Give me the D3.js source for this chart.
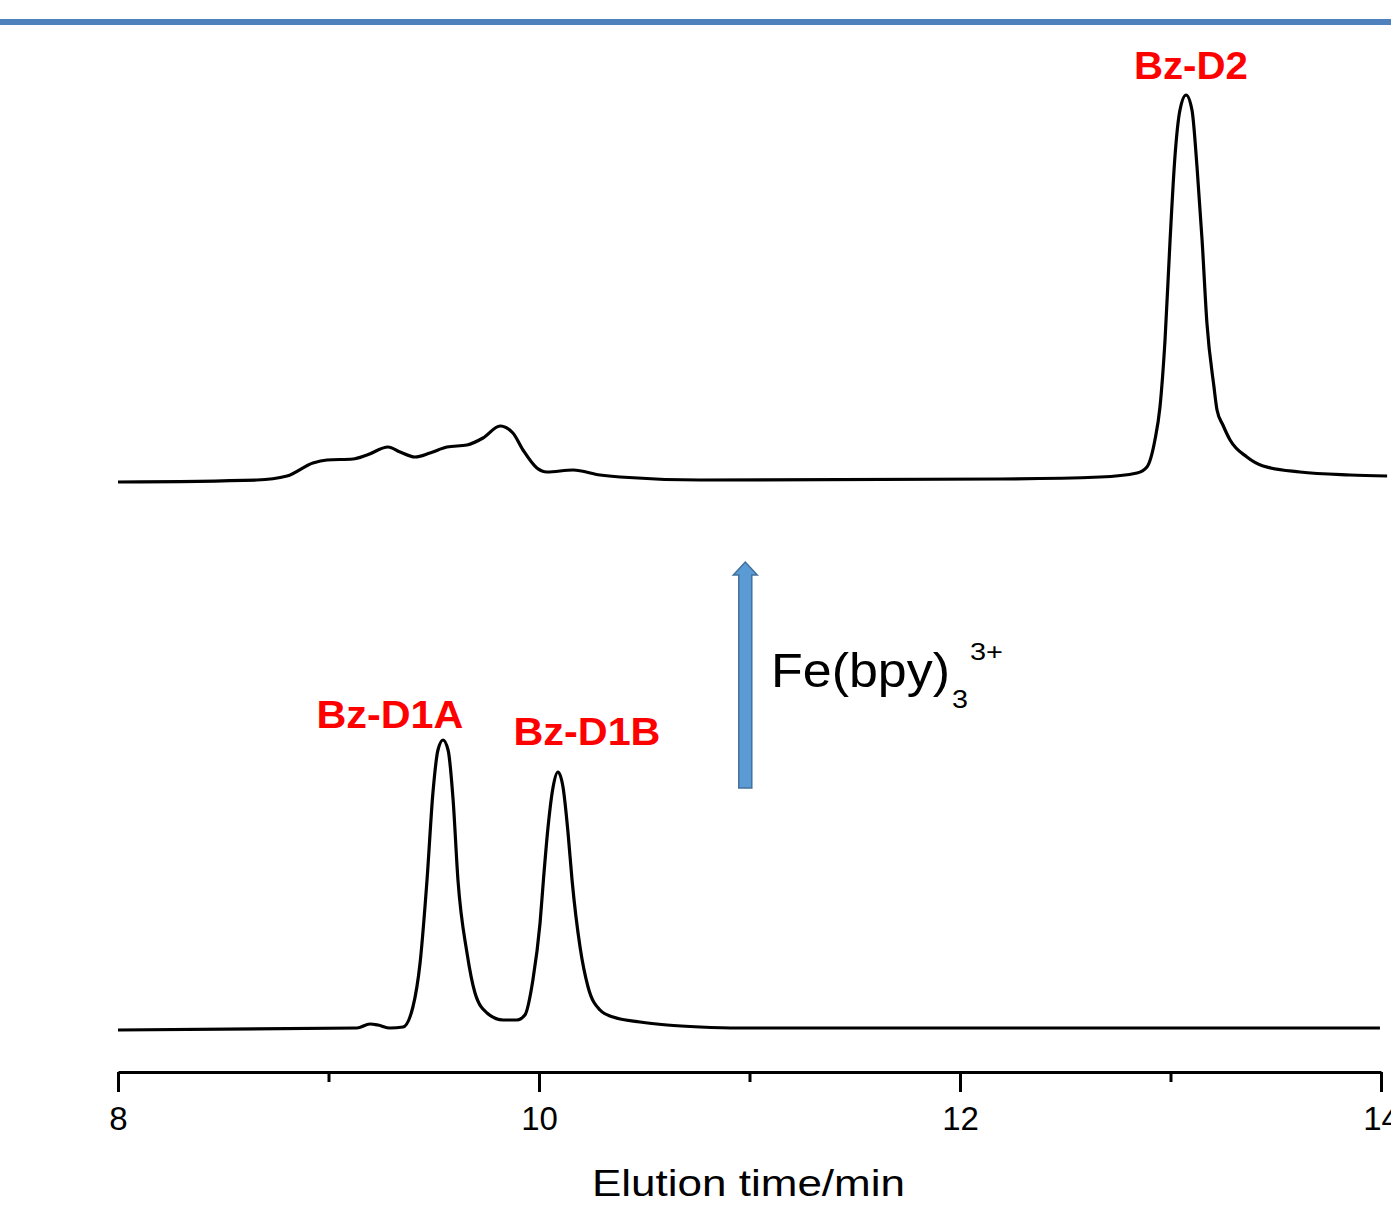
<!DOCTYPE html>
<html>
<head>
<meta charset="utf-8">
<script src="https://cdn.jsdelivr.net/npm/d3@7"></script>
<style>
  body { margin: 0; background: #fff; }
  svg { display: block; font-family: "Liberation Sans", Arial, sans-serif; }
</style>
</head>
<body>
<div id="chart"></div>
<script>
// elution time (min) and detector signal (a.u.)
const beforeTime = [8.0, 9.135, 9.197, 9.235, 9.292, 9.354, 9.401, 9.435, 9.468, 9.496, 9.52, 9.544, 9.568, 9.592, 9.615, 9.658, 9.696, 9.753, 9.829, 9.895, 9.933, 9.971, 10.005, 10.021, 10.043, 10.067, 10.09, 10.114, 10.138, 10.157, 10.195, 10.233, 10.29, 10.352, 10.48, 10.608, 10.765, 10.955, 12.0, 13.995];
const beforeSignal = [0, 2, 6, 5, 2, 3, 23, 67, 150, 237, 280, 290, 280, 230, 150, 77, 37, 17, 10, 10, 15, 50, 107, 150, 203, 243, 258, 243, 197, 150, 83, 43, 20, 13, 8, 5, 3, 2, 2, 2];

const afterTime = [8.0, 8.66, 8.803, 8.926, 8.993, 9.116, 9.183, 9.283, 9.34, 9.411, 9.482, 9.563, 9.658, 9.734, 9.815, 9.876, 9.924, 9.99, 10.038, 10.162, 10.29, 10.385, 10.765, 12.19, 12.665, 12.841, 12.888, 12.926, 12.95, 12.974, 12.998, 13.021, 13.045, 13.074, 13.102, 13.126, 13.15, 13.173, 13.206, 13.221, 13.249, 13.283, 13.363, 13.44, 13.615, 13.853, 14.029];
const afterSignal = [0, 2, 6, 19, 22, 23, 27, 35, 30, 25, 29, 35, 37, 44, 56, 49, 32, 14, 10, 12, 7, 5, 2, 3, 5, 9, 15, 42, 75, 142, 242, 325, 372, 387, 372, 315, 242, 159, 96, 72, 57, 42, 25, 16, 10, 7, 6];
const afterOffset = 548;

const xTicks = [8, 10, 12, 14];
const xMinorTicks = [9, 11, 13];

const peakLabels = [
  {text: "Bz-D1A", t: 9.292, v: 302, w: 147},
  {text: "Bz-D1B", t: 10.228, v: 285, w: 147},
  {text: "Bz-D2", t: 13.097, v: 951, w: 114}
];

const width = 1391, height = 1205;

const x = d3.scaleLinear().domain([8, 14]).range([118, 1381]);
const y = d3.scaleLinear().domain([0, 1000]).range([1030, 30]);

const svg = d3.select("#chart").append("svg")
  .attr("width", width)
  .attr("height", height)
  .attr("viewBox", [0, 0, width, height]);

// slide rule at top
svg.append("line")
  .attr("x1", 0).attr("x2", width)
  .attr("y1", 22).attr("y2", 22)
  .attr("stroke", "#4f81bd")
  .attr("stroke-width", 6);

const line = d3.line()
  .x(d => x(d[0]))
  .y(d => y(d[1]))
  .curve(d3.curveMonotoneX);

svg.append("path")
  .datum(d3.zip(beforeTime, beforeSignal))
  .attr("fill", "none")
  .attr("stroke", "#000")
  .attr("stroke-width", 3.2)
  .attr("stroke-linejoin", "round")
  .attr("d", line);

svg.append("path")
  .datum(d3.zip(afterTime, afterSignal.map(v => v + afterOffset)))
  .attr("fill", "none")
  .attr("stroke", "#000")
  .attr("stroke-width", 3.2)
  .attr("stroke-linejoin", "round")
  .attr("d", line);

// axes
const axisY = 1072;
svg.append("g")
  .attr("transform", `translate(0,${axisY})`)
  .call(d3.axisBottom(x).tickValues(xMinorTicks).tickSize(10).tickFormat(""))
  .call(g => g.select(".domain").remove())
  .call(g => g.selectAll(".tick line").attr("stroke-width", 3));

svg.append("g")
  .attr("transform", `translate(0,${axisY})`)
  .call(d3.axisBottom(x).tickValues(xTicks).tickSize(20).tickSizeOuter(0).tickPadding(15).tickFormat(d3.format("d")))
  .call(g => g.select(".domain").attr("stroke-width", 3))
  .call(g => g.selectAll(".tick line").attr("stroke-width", 3))
  .call(g => g.selectAll(".tick text")
    .attr("font-size", 33)
    .attr("font-family", "Liberation Sans, Arial, sans-serif")
    .attr("fill", "#000"));

svg.append("text")
  .attr("x", 592)
  .attr("y", 1196)
  .attr("font-size", 37)
  .attr("textLength", 313)
  .attr("lengthAdjust", "spacingAndGlyphs")
  .attr("fill", "#000")
  .text("Elution time/min");

// peak labels
svg.append("g")
  .selectAll("text")
  .data(peakLabels)
  .join("text")
  .attr("x", d => x(d.t) - d.w / 2)
  .attr("y", d => y(d.v))
  .attr("font-size", 38)
  .attr("font-weight", "bold")
  .attr("textLength", d => d.w)
  .attr("lengthAdjust", "spacingAndGlyphs")
  .attr("fill", "#ff0000")
  .text(d => d.text);

// oxidation arrow
const ax = x(10.98), aTop = y(468), aHead = y(455), aBot = y(242);
svg.append("path")
  .attr("d", `M${ax - 6.5},${aBot} V${aHead} H${ax - 12} L${ax},${aTop} L${ax + 12},${aHead} H${ax + 6.5} V${aBot} Z`)
  .attr("fill", "#5b9bd5")
  .attr("stroke", "#41719c")
  .attr("stroke-width", 1.5);

svg.append("text")
  .attr("x", 771)
  .attr("y", 687)
  .attr("font-size", 49)
  .attr("textLength", 179)
  .attr("lengthAdjust", "spacingAndGlyphs")
  .attr("fill", "#000")
  .text("Fe(bpy)");
svg.append("text")
  .attr("x", 952)
  .attr("y", 708)
  .attr("font-size", 26)
  .attr("textLength", 16)
  .attr("lengthAdjust", "spacingAndGlyphs")
  .attr("fill", "#000")
  .text("3");
svg.append("text")
  .attr("x", 970)
  .attr("y", 660)
  .attr("font-size", 23)
  .attr("textLength", 33)
  .attr("lengthAdjust", "spacingAndGlyphs")
  .attr("fill", "#000")
  .text("3+");
</script>
</body>
</html>
